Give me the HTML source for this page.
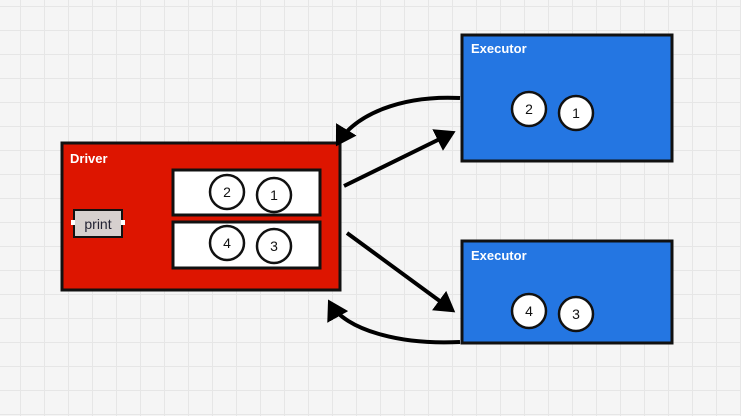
<!DOCTYPE html>
<html><head><style>
body{margin:0;width:741px;height:416px;overflow:hidden;background-color:#f5f5f5;
background-image:linear-gradient(#e6e6e6 1px,transparent 1px),linear-gradient(90deg,#e6e6e6 1px,transparent 1px);background-size:24px 24px;background-position:-4px 6px;font-family:"Liberation Sans",sans-serif}
</style></head><body>
<svg width="741" height="416" xmlns="http://www.w3.org/2000/svg" style="position:absolute;left:0;top:0">
<defs><marker id="a" markerWidth="6" markerHeight="6" refX="4" refY="3" orient="auto" markerUnits="strokeWidth"><path d="M0,0 L5,3 L0,6 Z" fill="#000"/></marker></defs>
<rect x="62" y="143" width="278" height="147" fill="#dd1500" stroke="#111" stroke-width="3"/>
<text x="70" y="163" fill="#fff" font-size="13" font-weight="bold">Driver</text>
<rect x="173" y="170" width="147" height="45" fill="#fff" stroke="#111" stroke-width="3"/>
<rect x="173" y="222" width="147" height="46" fill="#fff" stroke="#111" stroke-width="3"/>
<rect x="74" y="210" width="48" height="27" fill="#d6d0ce" stroke="#111" stroke-width="2"/>
<rect x="71" y="220" width="4" height="5" fill="#fff"/><rect x="121" y="220" width="4" height="5" fill="#fff"/>
<text x="98" y="229" font-size="14" text-anchor="middle" fill="#223">print</text>
<g fill="#fff" stroke="#111" stroke-width="2.5">
<circle cx="227" cy="192" r="17"/><circle cx="274" cy="195" r="17"/>
<circle cx="227" cy="243" r="17"/><circle cx="274" cy="246" r="17"/>
</g>
<rect x="462" y="35" width="210" height="126" fill="#2476e2" stroke="#111" stroke-width="3"/>
<rect x="462" y="241" width="210" height="102" fill="#2476e2" stroke="#111" stroke-width="3"/>
<text x="471" y="53" fill="#fff" font-size="13" font-weight="bold">Executor</text>
<text x="471" y="260" fill="#fff" font-size="13" font-weight="bold">Executor</text>
<g fill="#fff" stroke="#111" stroke-width="2.5">
<circle cx="529" cy="109" r="17"/><circle cx="576" cy="113" r="17"/>
<circle cx="529" cy="311" r="17"/><circle cx="576" cy="314" r="17"/>
</g>
<g font-size="14" text-anchor="middle" fill="#111">
<text x="227" y="197">2</text><text x="274" y="200">1</text>
<text x="227" y="248">4</text><text x="274" y="251">3</text>
<text x="529" y="114">2</text><text x="576" y="118">1</text>
<text x="529" y="316">4</text><text x="576" y="319">3</text>
</g>
<g fill="none" stroke="#000" stroke-width="4" marker-end="url(#a)">
<path d="M460,98 C400,95 355,115 338,143"/>
<path d="M344,186 L452,133"/>
<path d="M347,233 L452,310"/>
<path d="M460,342 C400,345 345,330 330,303"/>
</g>
</svg>
</body></html>
